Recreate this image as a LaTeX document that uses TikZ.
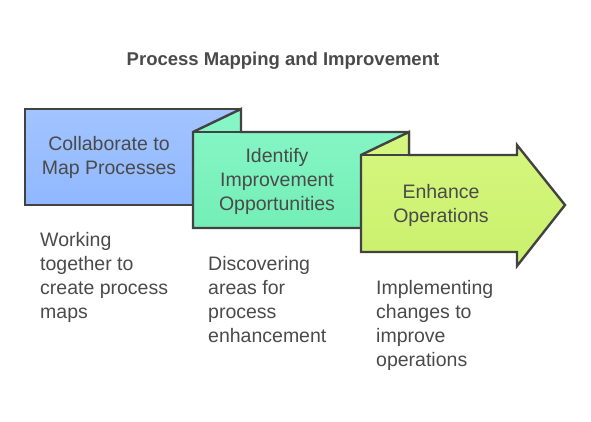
\documentclass[tikz,border=0pt]{standalone}
\usepackage{fontspec}
\setmainfont{Liberation Sans}
\usetikzlibrary{positioning}

\definecolor{lineGray}{HTML}{424242}
\definecolor{textGray}{HTML}{4A4A4A}
\definecolor{blueTop}{HTML}{A2C4FF}
\definecolor{blueBot}{HTML}{90B8FF}
\definecolor{greenTop}{HTML}{88F7C8}
\definecolor{greenBot}{HTML}{74EEB6}
\definecolor{limeTop}{HTML}{D6F780}
\definecolor{limeBot}{HTML}{CAF06C}

\begin{document}
\begin{tikzpicture}[x=1pt,y=-1pt,font=\fontsize{19.5}{24}\selectfont,panel/.style={draw=lineGray, line width=2.4pt, line join=miter},boxtext/.style={text=textGray, align=center, inner sep=0pt},desc/.style={text=textGray, align=left, anchor=north west, inner sep=0pt}]

  \useasboundingbox (0,0) rectangle (591,422);

  % Title
  \node[text=textGray, font=\bfseries\fontsize{18.5}{22}\selectfont] (title) at (283,61) {Process Mapping and Improvement};

  % Define panels
  \path[panel, top color=blueTop, bottom color=blueBot] (25,109) rectangle (241,205);
  \path[panel, top color=greenTop, bottom color=greenBot] (193,228) -- (193,132) -- (241,109) -- (241,132) -- (409,132) -- (409,228) -- cycle;
  \draw[panel] (193,132) -- (241,132);
  \path[panel, top color=limeTop, bottom color=limeBot] (361,252) -- (361,155) -- (409,132) -- (409,155) -- (517,155) -- (517,145) -- (565,205) -- (517,266) -- (517,252) -- cycle;
  \draw[panel] (361,155) -- (409,155);

  % Panel texts
  \node[boxtext] (collab) at (109,157) {Collaborate to\\Map Processes};
  \node[boxtext] (identify) at (277,181) {Identify\\Improvement\\Opportunities};
  \node[boxtext] (enhance) at (441,205) {Enhance\\Operations};

  % Descriptions
  \node[desc] (working) at (40,232) {Working\\together to\\create process\\maps};
  \node[desc] (discover) at (208,256) {Discovering\\areas for\\process\\enhancement};
  \node[desc] (implement) at (376,280) {Implementing\\changes to\\improve\\operations};
\end{tikzpicture}
\end{document}
